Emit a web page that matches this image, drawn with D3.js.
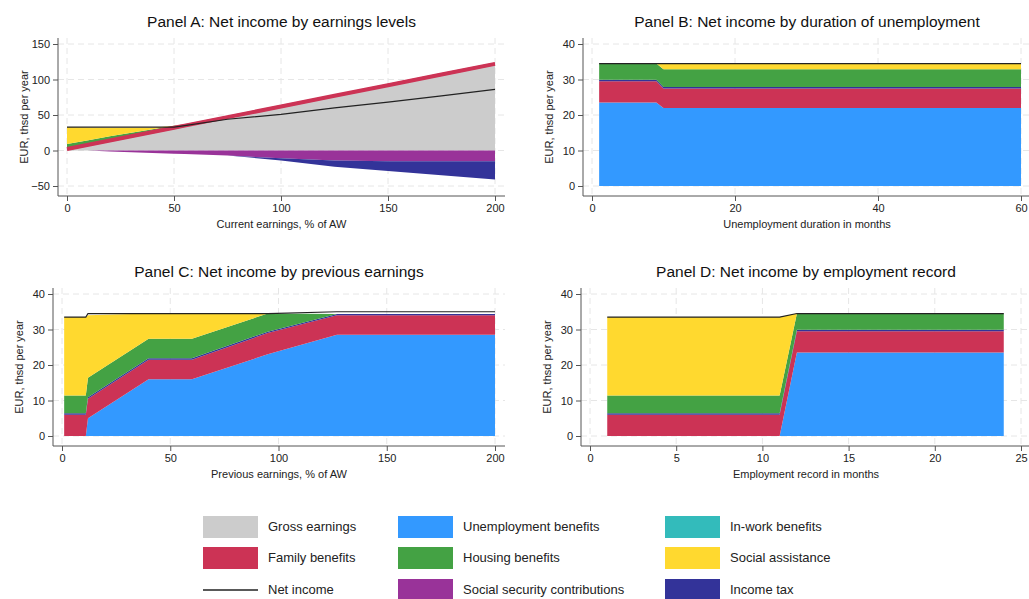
<!DOCTYPE html>
<html><head><meta charset="utf-8">
<script src="https://cdn.jsdelivr.net/npm/d3@7"></script>
<style>body{margin:0;background:#fff;font-family:Arial,"Liberation Sans",sans-serif}</style>
</head><body><svg id="c" width="1029" height="599"></svg>
<script>
// Panel A: by earnings level (x = % of AW)
const aX     = [0, 10, 20, 30, 40, 50, 55, 75, 100, 125, 150, 175, 200];
const aGross = [0, 6, 12, 18, 24, 30, 33, 45, 60, 75, 90, 105, 120];
const aFam   = [4, 4, 4, 4, 4, 4, 4, 4, 4, 4, 4, 4, 4];
const aHous  = [5, 4.5, 4, 3, 2, 1, 0, 0, 0, 0, 0, 0, 0];
const aSA    = [24, 18, 12, 7, 2, 0, 0, 0, 0, 0, 0, 0, 0];
const aSSC   = [0, 0, -1.5, -2.5, -3.5, -4.5, -5, -7, -11, -14, -15, -15, -15];
const aTax   = [0, 0, 0, 0, 0, 0, 0, 0, -3, -9, -14, -20, -26];
const aNet   = [33, 33, 33, 33, 33, 33, 35, 44, 51, 60, 68, 77, 86];

// Panel B: by duration of unemployment (months)
const bX    = [1, 9, 10, 60];
const bUB   = [23.5, 23.5, 22, 22];
const bFam  = [6, 6, 5.5, 5.5];
const bTax  = [0.4, 0.4, 0.4, 0.4];
const bHous = [4.6, 4.6, 5, 5];
const bSA   = [0, 0, 1.6, 1.6];
const bNet  = [34.5, 34.5, 34.5, 34.5];

// Panel C: by previous earnings (% of AW)
const cX    = [1, 11, 12, 40, 60, 95, 127, 200];
const cUB   = [0, 0, 5, 16, 16, 23, 28.5, 28.5];
const cFam  = [6, 6, 5.5, 5.5, 5.5, 6, 5.5, 5.5];
const cTax  = [0.4, 0.4, 0.4, 0.4, 0.4, 0.4, 0.4, 0.4];
const cHous = [5, 5, 5.5, 5.5, 5.5, 5.1, 0, 0];
const cSA   = [22.1, 22.1, 17.6, 7.1, 7.1, 0, 0, 0];
const cNet  = [33.5, 33.5, 34.5, 34.5, 34.5, 34.5, 35, 35];

// Panel D: by employment record (months)
const dX    = [1, 11, 12, 24];
const dUB   = [0, 0, 23.5, 23.5];
const dFam  = [6, 6, 6, 6];
const dTax  = [0.4, 0.4, 0.4, 0.4];
const dHous = [5, 5, 4.6, 4.6];
const dSA   = [22.1, 22.1, 0, 0];
const dNet  = [33.5, 33.5, 34.5, 34.5];

const legendLabels = ["Gross earnings", "Unemployment benefits", "In-work benefits",
  "Family benefits", "Housing benefits", "Social assistance",
  "Net income", "Social security contributions", "Income tax"];

const col = {gross:"#cccccc", ub:"#3399ff", inwork:"#33bbbb", fam:"#cc3355",
  hous:"#44a244", sa:"#ffd92f", net:"#222", ssc:"#993399", tax:"#333399"};

const svg = d3.select("#c");

function panel(o) {
  const g = svg.append("g");
  const x = d3.scaleLinear().domain(o.xd).range(o.xr);
  const y = d3.scaleLinear().domain(o.yd).range(o.yr);
  // frame area
  const left = o.xr[0] - 9, right = o.xr[1] + 10, top = o.yr[1] - 6, bottom = o.yr[0] + 10;
  // grid
  o.yt.forEach(t => g.append("line").attr("x1", left).attr("x2", right)
    .attr("y1", y(t)).attr("y2", y(t)).attr("stroke", "#e6e6e6").attr("stroke-dasharray", "6,4"));
  o.xt.forEach(t => g.append("line").attr("y1", top).attr("y2", bottom)
    .attr("x1", x(t)).attr("x2", x(t)).attr("stroke", "#e6e6e6").attr("stroke-dasharray", "6,4"));
  // stacked positive layers
  let base = o.xs.map(() => 0);
  o.layers.forEach(L => {
    const lo = base.slice(), hi = base.map((b, i) => b + L.v[i]);
    g.append("path").datum(o.xs.map((d, i) => [d, lo[i], hi[i]]))
      .attr("fill", L.c)
      .attr("d", d3.area().x(d => x(d[0])).y0(d => y(d[1])).y1(d => y(d[2])));
    base = hi;
  });
  // negative layers
  if (o.neg) {
    let nb = o.xs.map(() => 0);
    o.neg.forEach(L => {
      const lo = nb.slice(), hi = nb.map((b, i) => b + L.v[i]);
      g.append("path").datum(o.xs.map((d, i) => [d, lo[i], hi[i]]))
        .attr("fill", L.c)
        .attr("d", d3.area().x(d => x(d[0])).y0(d => y(d[1])).y1(d => y(d[2])));
      nb = hi;
    });
  }
  if (o.thick) {
    g.append("path").datum(o.xs.map((d, i) => [d, o.thick[i]]))
      .attr("fill", "none").attr("stroke", col.fam).attr("stroke-width", 4)
      .attr("d", d3.line().x(d => x(d[0])).y(d => y(d[1])));
  }
  g.append("path").datum(o.xs.map((d, i) => [d, o.net[i]]))
    .attr("fill", "none").attr("stroke", col.net).attr("stroke-width", 1.2)
    .attr("d", d3.line().x(d => x(d[0])).y(d => y(d[1])));
  // axes
  const ax = g.append("g").attr("transform", `translate(0,${bottom})`)
    .call(d3.axisBottom(x).tickValues(o.xt).tickSizeOuter(0).tickSize(5));
  ax.select(".domain").attr("d", `M${left},0H${right}`);
  const ay = g.append("g").attr("transform", `translate(${left},0)`)
    .call(d3.axisLeft(y).tickValues(o.yt).tickSizeOuter(0).tickSize(5));
  ay.select(".domain").attr("d", `M0,${top}V${bottom}`);
  [ax, ay].forEach(a => {
    a.selectAll("text").attr("font-size", 11).attr("fill", "#222").attr("font-family", "Arial, Liberation Sans");
    a.selectAll("line,.domain").attr("stroke", "#555");
  });
  g.append("text").attr("x", (left + right) / 2).attr("y", bottom + 32).attr("text-anchor", "middle")
    .attr("font-size", 11).attr("fill", "#222").text(o.xl);
  g.append("text").attr("transform", `translate(${left - 30},${(top + bottom) / 2}) rotate(-90)`)
    .attr("text-anchor", "middle").attr("font-size", 11).attr("fill", "#222").text("EUR, thsd per year");
  g.append("text").attr("x", (left + right) / 2).attr("y", top - 11).attr("text-anchor", "middle")
    .attr("font-size", 15.5).attr("fill", "#111").text(o.title);
}

panel({title: "Panel A: Net income by earnings levels", xl: "Current earnings, % of AW",
  xd: [0, 200], xr: [67, 495], yd: [-50, 150], yr: [186, 44],
  xt: [0, 50, 100, 150, 200], yt: [-50, 0, 50, 100, 150], xs: aX,
  layers: [{v: aGross, c: col.gross}, {v: aFam, c: col.fam}, {v: aHous, c: col.hous}, {v: aSA, c: col.sa}],
  neg: [{v: aSSC, c: col.ssc}, {v: aTax.map((t, i) => t), c: col.tax}],
  thick: aGross.map((g, i) => g + aFam[i] / 2), net: aNet});

panel({title: "Panel B: Net income by duration of unemployment", xl: "Unemployment duration in months",
  xd: [0, 60], xr: [592, 1021], yd: [0, 40], yr: [186, 44],
  xt: [0, 20, 40, 60], yt: [0, 10, 20, 30, 40], xs: bX,
  layers: [{v: bUB, c: col.ub}, {v: bFam, c: col.fam}, {v: bTax, c: col.tax}, {v: bHous, c: col.hous}, {v: bSA, c: col.sa}],
  net: bNet});

panel({title: "Panel C: Net income by previous earnings", xl: "Previous earnings, % of AW",
  xd: [0, 200], xr: [62, 495], yd: [0, 40], yr: [436, 294],
  xt: [0, 50, 100, 150, 200], yt: [0, 10, 20, 30, 40], xs: cX,
  layers: [{v: cUB, c: col.ub}, {v: cFam, c: col.fam}, {v: cTax, c: col.tax}, {v: cHous, c: col.hous}, {v: cSA, c: col.sa}],
  net: cNet});

panel({title: "Panel D: Net income by employment record", xl: "Employment record in months",
  xd: [0, 25], xr: [590, 1021], yd: [0, 40], yr: [436, 294],
  xt: [0, 5, 10, 15, 20, 25], yt: [0, 10, 20, 30, 40], xs: dX,
  layers: [{v: dUB, c: col.ub}, {v: dFam, c: col.fam}, {v: dTax, c: col.tax}, {v: dHous, c: col.hous}, {v: dSA, c: col.sa}],
  net: dNet});

// legend
const legCols = [col.gross, col.ub, col.inwork, col.fam, col.hous, col.sa, col.net, col.ssc, col.tax];
const lg = svg.append("g");
legendLabels.forEach((t, i) => {
  const cx = [203, 398, 665][i % 3], cy = [516, 547, 579][Math.floor(i / 3)];
  if (t === "Net income") {
    lg.append("line").attr("x1", cx).attr("x2", cx + 55).attr("y1", cy + 11).attr("y2", cy + 11)
      .attr("stroke", col.net).attr("stroke-width", 1.5);
  } else {
    lg.append("rect").attr("x", cx).attr("y", cy).attr("width", 55).attr("height", 22).attr("fill", legCols[i]);
  }
  lg.append("text").attr("x", cx + 65).attr("y", cy + 15).attr("font-size", 13).attr("fill", "#222").text(t);
});
</script></body></html>
